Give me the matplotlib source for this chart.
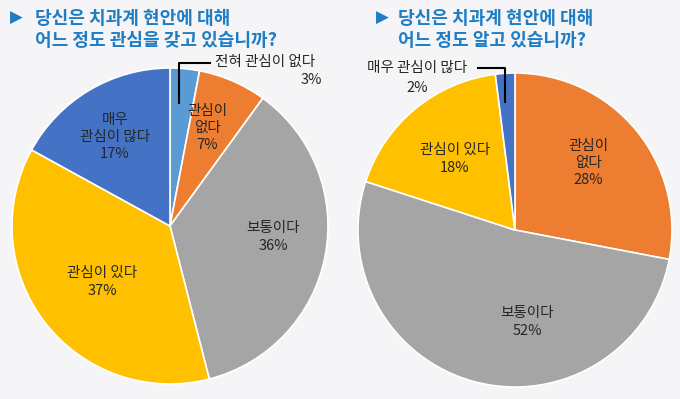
import matplotlib.pyplot as plt

plt.rcParams['font.family'] = ['Noto Sans CJK KR', 'DejaVu Sans']

# left chart: 관심도
left_title = ['당신은 치과계 현안에 대해', '어느 정도 관심을 갖고 있습니까?']
left_labels = ['전혀 관심이 없다', '관심이 없다', '보통이다', '관심이 있다', '매우 관심이 많다']
left_values = [3, 7, 36, 37, 17]
left_colors = ['#5B9BD5', '#ED7D31', '#A5A5A5', '#FFC000', '#4472C4']

# right chart: 인지도
right_title = ['당신은 치과계 현안에 대해', '어느 정도 알고 있습니까?']
right_labels = ['관심이 없다', '보통이다', '관심이 있다', '매우 관심이 많다']
right_values = [28, 52, 18, 2]
right_colors = ['#ED7D31', '#A5A5A5', '#FFC000', '#4472C4']

W, H = 680, 399
BG = '#F5F5F7'
TITLE_C = '#1F7DC4'
TXT_C = '#262626'

fig = plt.figure(figsize=(W / 100, H / 100), dpi=100, facecolor=BG)
ax = fig.add_axes([0, 0, 1, 1])
ax.set_facecolor(BG)


def Y(y):
    # pixel row (from top) -> data y
    return H - y


wp = dict(edgecolor='white', linewidth=1.2)
ax.pie(left_values, colors=left_colors, startangle=90, counterclock=False,
       center=(170, Y(226)), radius=158, wedgeprops=wp)
ax.pie(right_values, colors=right_colors, startangle=90, counterclock=False,
       center=(515, Y(230)), radius=157, wedgeprops=wp)
ax.set_xlim(0, W)
ax.set_ylim(0, H)
ax.set_aspect('equal')
ax.axis('off')

# titles
for x_tri, x_txt, lines in [(10, 35, left_title), (376, 398, right_title)]:
    ax.text(x_tri, Y(18), '▶', fontsize=12, color=TITLE_C, va='center', ha='left',
            family=['DejaVu Sans'])
    ax.text(x_txt, Y(18), lines[0], fontsize=13, color=TITLE_C, va='center',
            ha='left', fontweight='bold')
    ax.text(x_txt, Y(41), lines[1], fontsize=13, color=TITLE_C, va='center',
            ha='left', fontweight='bold')

fs = 10.5
kw = dict(fontsize=fs, color=TXT_C, fontweight='medium')
# left pie labels
ax.text(265, Y(62), left_labels[0], ha='center', va='center', **kw)
ax.text(322, Y(80), f'{left_values[0]}%', ha='right', va='center', **kw)
ax.plot([179, 179, 210], [Y(103), Y(63), Y(63)], color='black', lw=1.5)
ax.text(207, Y(128), '관심이\n없다\n' + f'{left_values[1]}%',
        ha='center', va='center', linespacing=1.3, **kw)
ax.text(273, Y(237), f'{left_labels[2]}\n{left_values[2]}%',
        ha='center', va='center', linespacing=1.3, **kw)
ax.text(102, Y(282), f'{left_labels[3]}\n{left_values[3]}%',
        ha='center', va='center', linespacing=1.3, **kw)
ax.text(115, Y(137), '매우\n관심이 많다\n' + f'{left_values[4]}%',
        ha='center', va='center', linespacing=1.3, **kw)

# right pie labels
ax.text(588, Y(163), '관심이\n없다\n' + f'{right_values[0]}%',
        ha='center', va='center', linespacing=1.3, **kw)
ax.text(527, Y(322), f'{right_labels[1]}\n{right_values[1]}%',
        ha='center', va='center', linespacing=1.3, **kw)
ax.text(455, Y(159), f'{right_labels[2]}\n{right_values[2]}%',
        ha='center', va='center', linespacing=1.3, **kw)
ax.text(417, Y(68), right_labels[3], ha='center', va='center', **kw)
ax.text(417, Y(88), f'{right_values[3]}%', ha='center', va='center', **kw)
ax.plot([478, 505, 505], [Y(68), Y(68), Y(102)], color='black', lw=1.5)

fig.savefig('out.png', dpi=100, facecolor=BG)
